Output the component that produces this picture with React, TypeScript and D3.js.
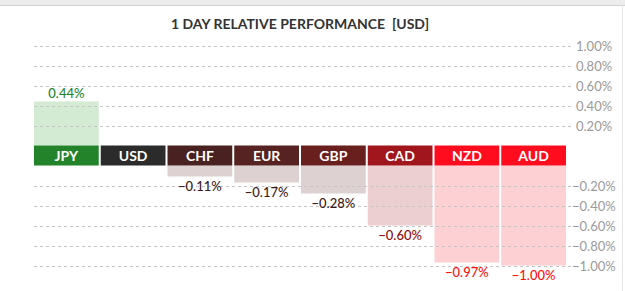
import React, { useEffect, useRef } from 'react';
import * as d3 from 'd3';

const currencies = ['JPY', 'USD', 'CHF', 'EUR', 'GBP', 'CAD', 'NZD', 'AUD'];
const changes = [0.44, 0, -0.11, -0.17, -0.28, -0.6, -0.97, -1.0];
const upTicks = [0.2, 0.4, 0.6, 0.8, 1.0];
const downTicks = [-0.2, -0.4, -0.6, -0.8, -1.0];

const tagColors = ['#23832a', '#2b2b2b', '#4a2121', '#562222', '#6a1f1f', '#a1161d', '#ff0d1f', '#ff0d1f'];
const barColors = ['#d3ead3', '#e0e0e0', '#ddd1d1', '#ddd1d1', '#ddd1d1', '#ecd0d1', '#fdd0d3', '#fdd0d3'];
const textColors = ['#23832a', '#2b2b2b', '#3b1818', '#3b1818', '#3b1818', '#8f0a0a', '#ff0d0d', '#ff0d0d'];

const W = 625;
const H = 291;

const App = () => {
  const ref = useRef<SVGSVGElement>(null);

  useEffect(() => {
    const svg = d3.select(ref.current);
    svg.selectAll('*').remove();

    const x = d3.scaleBand().domain(currencies).range([34, 566]).paddingInner(0.03);
    const yUp = d3.scaleLinear().domain([0, 1]).range([145.5, 45.5]);
    const yDown = d3.scaleLinear().domain([0, -1]).range([165.5, 265.5]);

    // window chrome
    svg.append('rect').attr('x', 0).attr('y', 0).attr('width', W).attr('height', 5).attr('fill', '#ececec');
    svg.append('line').attr('x1', 0).attr('x2', W).attr('y1', 5.5).attr('y2', 5.5).attr('stroke', '#cfcfcf');
    svg.append('line').attr('x1', 622.5).attr('x2', 622.5).attr('y1', 5).attr('y2', H).attr('stroke', '#e4e4e4');

    svg
      .append('text')
      .attr('x', 300)
      .attr('y', 29)
      .attr('text-anchor', 'middle')
      .attr('font-family', 'Lato, sans-serif')
      .attr('font-weight', 'bold')
      .attr('font-size', 14)
      .attr('fill', '#333')
      .style('white-space', 'pre')
      .text('1 DAY RELATIVE PERFORMANCE  [USD]');

    const data = currencies.map((c, i) => ({ c, v: changes[i], i }));

    // bars
    svg
      .selectAll('rect.bar')
      .data(data.filter((d) => d.v !== 0))
      .enter()
      .append('rect')
      .attr('class', 'bar')
      .attr('x', (d) => x(d.c)!)
      .attr('width', x.bandwidth())
      .attr('y', (d) => (d.v > 0 ? yUp(d.v) : yDown(0)))
      .attr('height', (d) => (d.v > 0 ? yUp(0) - yUp(d.v) : yDown(d.v) - yDown(0)))
      .attr('fill', (d) => barColors[d.i]);

    // gridlines + tick labels
    const grid = svg.append('g');
    const addTick = (v: number, y: number) => {
      grid
        .append('line')
        .attr('x1', 34)
        .attr('x2', 571)
        .attr('y1', Math.round(y) + 0.5)
        .attr('y2', Math.round(y) + 0.5)
        .attr('stroke', '#c4c4c4')
        .attr('stroke-dasharray', '3,3');
      grid
        .append('text')
        .attr('x', v < 0 ? 572 : 576)
        .attr('y', y + 5)
        .attr('font-family', 'Lato, sans-serif')
        .attr('font-size', 13)
        .attr('fill', '#9a9a9a')
        .text(d3.format('.2f')(v) + '%');
    };
    upTicks.forEach((v) => addTick(v, yUp(v)));
    downTicks.forEach((v) => addTick(v, yDown(v)));

    // currency tags
    const tags = svg.selectAll('g.tag').data(data).enter().append('g').attr('class', 'tag');
    tags
      .append('rect')
      .attr('x', (d) => x(d.c)!)
      .attr('width', x.bandwidth())
      .attr('y', yUp(0))
      .attr('height', yDown(0) - yUp(0))
      .attr('fill', (d) => tagColors[d.i]);
    tags
      .append('text')
      .attr('x', (d) => x(d.c)! + x.bandwidth() / 2)
      .attr('y', yUp(0) + 15)
      .attr('text-anchor', 'middle')
      .attr('font-family', 'Lato, sans-serif')
      .attr('font-weight', 'bold')
      .attr('font-size', 14)
      .attr('fill', '#fff')
      .text((d) => d.c);

    // value labels
    svg
      .selectAll('text.val')
      .data(data.filter((d) => d.v !== 0))
      .enter()
      .append('text')
      .attr('class', 'val')
      .attr('x', (d) => x(d.c)! + x.bandwidth() / 2)
      .attr('y', (d) => (d.v > 0 ? yUp(d.v) - 4 : yDown(d.v) + 14))
      .attr('text-anchor', 'middle')
      .attr('font-family', 'Lato, sans-serif')
      .attr('font-size', 13)
      .attr('font-weight', 500)
      .attr('fill', (d) => textColors[d.i])
      .text((d) => d3.format('.2f')(d.v) + '%');
  }, []);

  return (
    <svg
      ref={ref}
      width={W}
      height={H}
      style={{ position: 'absolute', left: 0, top: 0, background: '#fff' }}
    />
  );
};

export default App;
